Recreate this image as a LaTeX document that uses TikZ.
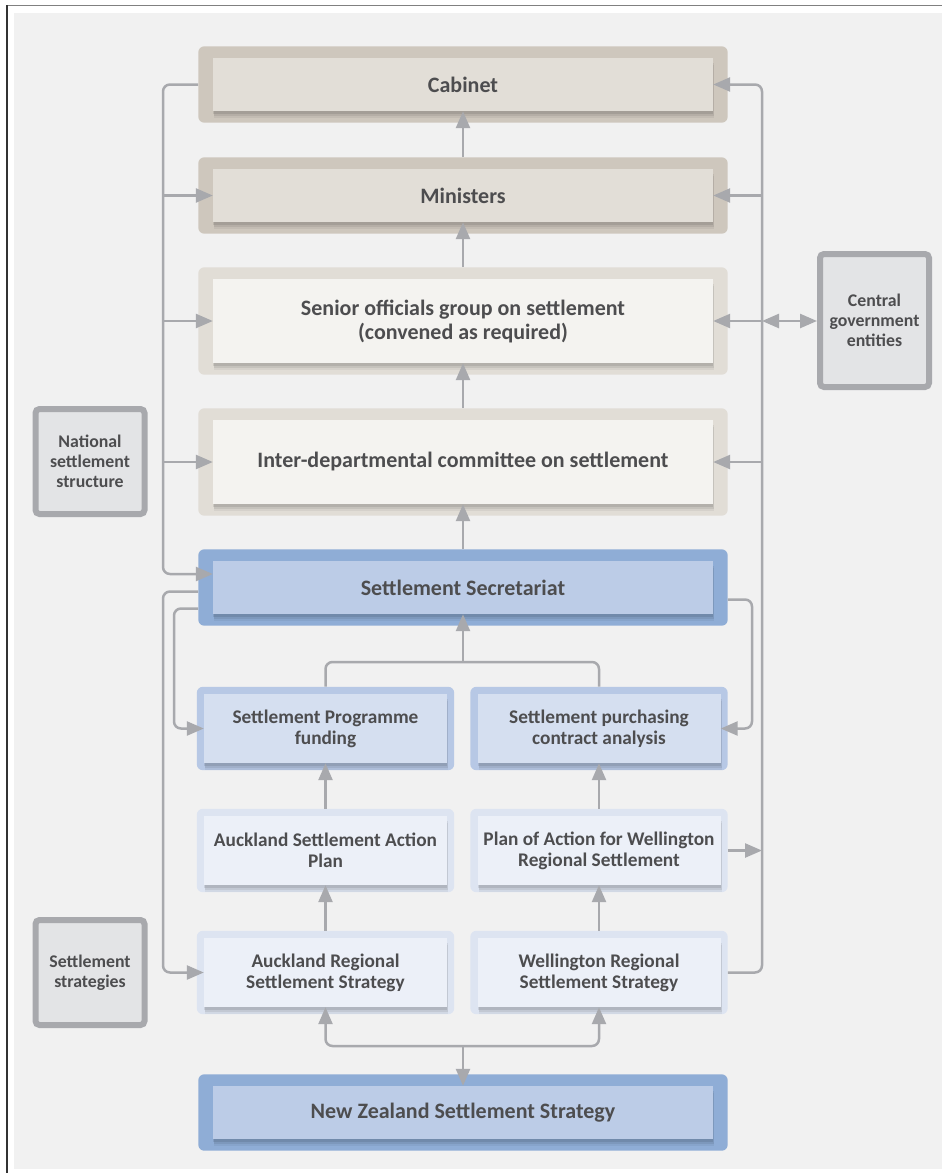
\documentclass[tikz,border=0pt]{standalone}
\usepackage{fontspec}
\setmainfont{Carlito}
\usetikzlibrary{arrows.meta,fit,backgrounds,shadows,calc}

\definecolor{pagegray}{HTML}{F1F1F1}
\definecolor{tanframe}{HTML}{CEC7BD}
\definecolor{tanfill}{HTML}{E2DED7}
\definecolor{stoneframe}{HTML}{E1DDD6}
\definecolor{stonefill}{HTML}{F4F3F0}
\definecolor{blueframe}{HTML}{8FADD6}
\definecolor{bluefill}{HTML}{BCCCE7}
\definecolor{midframe}{HTML}{B7C8E5}
\definecolor{midfill}{HTML}{D5DFF0}
\definecolor{paleframe}{HTML}{DDE4F1}
\definecolor{palefill}{HTML}{ECF0F8}
\definecolor{sideline}{HTML}{A8A9AD}
\definecolor{sidefill}{HTML}{E3E4E6}
\definecolor{wire}{HTML}{A8A9AD}
\definecolor{ink}{HTML}{4D4D4F}

\begin{document}
\begin{tikzpicture}[x=1pt,y=-1pt,
	>={Triangle[length=17pt,width=14pt]},
	conn/.style={draw=wire, line width=2.5pt, rounded corners=7pt},
	boxshadow/.style={
		general shadow={shadow xshift=1pt,shadow yshift=-7pt,opacity=.05,fill=black},
		general shadow={shadow xshift=1pt,shadow yshift=-5pt,opacity=.07,fill=black},
		general shadow={shadow xshift=0pt,shadow yshift=-3pt,opacity=.09,fill=black}},
	bigbox/.style={boxshadow, text=ink, align=center, inner sep=0pt,
		font=\bfseries\fontsize{22}{24}\selectfont, minimum width=500, minimum height=53},
	smallbox/.style={boxshadow, text=ink, align=center, inner sep=0pt,
		font=\bfseries\fontsize{19.3}{21}\selectfont, minimum width=243, minimum height=69},
	bigframe/.style={rounded corners=6pt, inner xsep=14.5pt, inner ysep=11.5pt},
	smallframe/.style={rounded corners=6pt, inner xsep=7pt, inner ysep=7pt},
	sidebox/.style={draw=sideline, line width=6pt, fill=sidefill, rounded corners=4pt,
		text=ink, align=center, inner sep=0pt, font=\bfseries\fontsize{17.8}{20}\selectfont,
		minimum width=109, minimum height=105}]
	\useasboundingbox (0,0) rectangle (942,1173);

	\node[bigbox, fill=tanfill] (cab) at (463,84.5) {Cabinet};
	\node[bigbox, fill=tanfill] (min) at (463,195.5) {Ministers};
	\node[bigbox, fill=stonefill, minimum height=84] (sog) at (463,321) {Senior officials group on settlement\\(convened as required)};
	\node[bigbox, fill=stonefill, minimum height=84] (idc) at (463,462) {Inter-departmental committee on settlement};
	\node[bigbox, fill=bluefill] (sec) at (463,587.5) {Settlement Secretariat};
	\node[smallbox, fill=midfill] (spf) at (325.5,728.5) {Settlement Programme\\funding};
	\node[smallbox, fill=midfill] (spc) at (599,728.5) {Settlement purchasing\\contract analysis};
	\node[smallbox, fill=palefill] (aap) at (325.5,850.5) {Auckland Settlement Action\\Plan};
	\node[smallbox, fill=palefill] (par) at (599,850.5) {Plan of Action for Wellington\\Regional Settlement};
	\node[smallbox, fill=palefill] (ars) at (325.5,972.5) {Auckland Regional\\Settlement Strategy};
	\node[smallbox, fill=palefill] (wrs) at (599,972.5) {Wellington Regional\\Settlement Strategy};
	\node[bigbox, fill=bluefill] (nzs) at (463,1112.5) {New Zealand Settlement Strategy};

	\node[sidebox, minimum height=133] (cge) at (874.5,320.5) {Central\\government\\entities};
	\node[sidebox] (nss) at (90,461.5) {National\\settlement\\structure};
	\node[sidebox] (sst) at (90,972.5) {Settlement\\strategies};

	\begin{scope}[on background layer]
		\fill[pagegray] (14,13) rectangle (942,1169);
		\draw[gray, line width=1.5pt] (7,5.7) -- (942,5.7);
		\draw[black!80, line width=1.5pt] (7,5) -- (7,1173);
		\node[bigframe, fill=tanframe, fit=(cab)] (cabf) {};
		\node[bigframe, fill=tanframe, fit=(min)] (minf) {};
		\node[bigframe, fill=stoneframe, fit=(sog)] (sogf) {};
		\node[bigframe, fill=stoneframe, fit=(idc)] (idcf) {};
		\node[bigframe, fill=blueframe, fit=(sec)] (secf) {};
		\node[smallframe, fill=midframe, fit=(spf)] (spff) {};
		\node[smallframe, fill=midframe, fit=(spc)] (spcf) {};
		\node[smallframe, fill=paleframe, fit=(aap)] (aapf) {};
		\node[smallframe, fill=paleframe, fit=(par)] (parf) {};
		\node[smallframe, fill=paleframe, fit=(ars)] (arsf) {};
		\node[smallframe, fill=paleframe, fit=(wrs)] (wrsf) {};
		\node[bigframe, fill=blueframe, fit=(nzs)] (nzsf) {};
	\end{scope}

	\coordinate (lbus) at (163,0);
	\coordinate (lbusb) at (174,0);
	\coordinate (rbus) at (762,0);
	\coordinate (rbusb) at (752,0);
	\coordinate (join) at (463,662);
	\coordinate (split) at (463,1046);

	\draw[conn,->] (cabf.west) -| (lbus |- {$(sec.west)+(0,-13.5)$}) -- ($(sec.west)+(0,-13.5)$);
	\draw[conn,->] (lbus |- min.west) -- (min.west);
	\draw[conn,->] (lbus |- sog.west) -- (sog.west);
	\draw[conn,->] (lbus |- idc.west) -- (idc.west);
	\draw[conn,->] ($(secf.west)+(0,4)$) -| (lbus |- ars.west) -- (ars.west);
	\draw[conn,->] ($(secf.west)+(0,21)$) -| (lbusb |- spf.west) -- (spf.west);
	\draw[conn,->] ($(secf.east)+(0,12)$) -| (rbusb |- spc.east) -- (spc.east);

	\draw[conn,->] (wrsf.east) -| (rbus |- cab.east) -- (cab.east);
	\draw[conn,->] (rbus |- min.east) -- (min.east);
	\draw[conn,->] (rbus |- sog.east) -- (sog.east);
	\draw[conn,->] (rbus |- idc.east) -- (idc.east);
	\draw[conn,<->] (rbus |- sog.east) -- (cge.west |- sog.east);
	\draw[conn,->] (parf.east) -- (rbus |- parf.east);

	\draw[conn,->] (minf.north) -- (cab.south);
	\draw[conn,->] (sogf.north) -- (min.south);
	\draw[conn,->] (idcf.north) -- (sog.south);
	\draw[conn,->] (secf.north) -- (idc.south);
	\draw[conn] (spff.north) |- (join) -| (spcf.north);
	\draw[conn,->] (join) -- (sec.south);
	\draw[conn,->] (aapf.north) -- (spf.south);
	\draw[conn,->] (parf.north) -- (spc.south);
	\draw[conn,->] (arsf.north) -- (aap.south);
	\draw[conn,->] (wrsf.north) -- (par.south);
	\draw[conn,<->] (ars.south) |- (split) -| (wrs.south);
	\draw[conn,->] (split) -- (nzs.north);
\end{tikzpicture}
\end{document}
